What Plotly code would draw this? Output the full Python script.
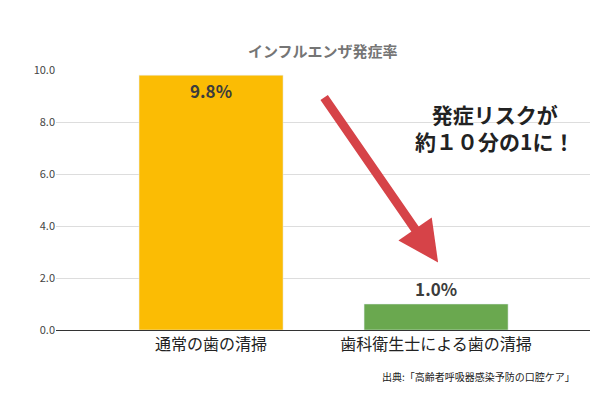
import plotly.graph_objects as go

categories = ["通常の歯の清掃", "歯科衛生士による歯の清掃"]
values = [9.8, 1.0]
labels = ["<b>9.8%</b>", "<b>1.0%</b>"]
colors = ["#FBBC04", "#6AA84F"]

font = "Noto Sans CJK JP"

fig = go.Figure(go.Bar(
    x=[0, 1], y=values, width=0.64, marker_color=colors,
    text=labels, textposition=["inside", "outside"], insidetextanchor="end",
    textfont=dict(family=font, size=17, color="#3c3c3c"),
    cliponaxis=False,
))

fig.update_layout(
    width=600, height=401,
    margin=dict(l=48, r=18, t=62, b=79, autoexpand=False),
    paper_bgcolor="white", plot_bgcolor="white",
    showlegend=False,
    xaxis=dict(tickvals=[0, 1], ticktext=categories, range=[-0.689, 1.684],
               tickfont=dict(family=font, size=16, color="#222"),
               showline=True, linecolor="#333", ticks="", automargin=False),
    yaxis=dict(range=[0, 10], dtick=2, tickformat=".1f", automargin=False,
               gridcolor="#dddddd", zeroline=False,
               tickfont=dict(family=font, size=11, color="#444")),
)

fig.add_annotation(x=0.5, y=30, xref="paper", yref="paper", yshift=0, showarrow=False,
                   text="<b>インフルエンザ発症率</b>",
                   font=dict(family=font, size=15, color="#757575"))
fig.layout.annotations[0].update(y=1.123)
fig.add_annotation(x=1.009, y=2.6, ax=0.498, ay=9.0, xref="x", yref="y",
                   axref="x", ayref="y", showarrow=True, arrowhead=2,
                   arrowsize=0.9, arrowwidth=9, arrowcolor="#D64348", text="")
fig.add_annotation(x=1.26, y=7.8, xref="x", yref="y", showarrow=False,
                   text="<b>発症リスクが<br>約１０分の1に！</b>",
                   font=dict(family=font, size=21, color="#222"))
fig.add_annotation(x=0.975, y=-0.215, xref="paper", yref="paper", showarrow=False,
                   xanchor="right", text="出典:「高齢者呼吸器感染予防の口腔ケア」",
                   font=dict(family=font, size=10, color="#222"))

fig.write_html("out.html")
